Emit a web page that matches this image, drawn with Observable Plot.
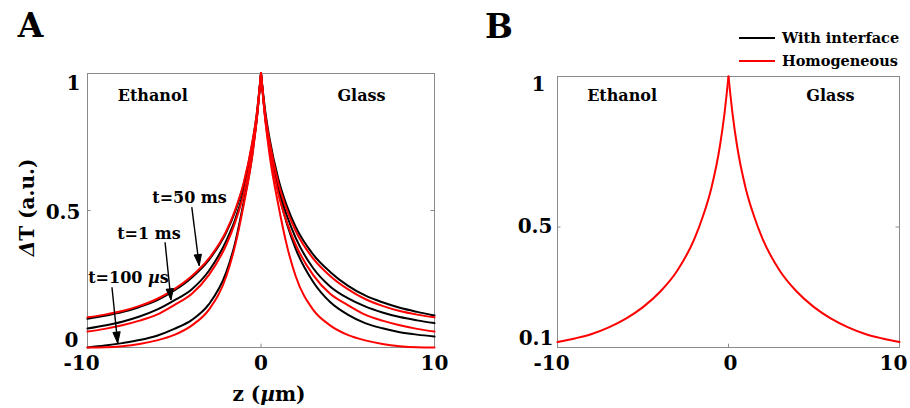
<!DOCTYPE html>
<html><head><meta charset="utf-8">
<script src="https://cdn.jsdelivr.net/npm/d3@7"></script>
<script src="https://cdn.jsdelivr.net/npm/@observablehq/plot@0.6"></script>
<style>
body{margin:0;background:#fff;}
#wrap{position:relative;width:910px;height:408px;display:flex;font-family:"DejaVu Serif",serif;}
#wrap svg{display:block;}
.lg{position:absolute;font-weight:bold;color:#000;white-space:nowrap;font-size:14.5px;line-height:16px;}
.ln{position:absolute;width:36px;height:0;border-top:2px solid;}
</style></head><body><div id="wrap"></div>
<script>
// ---------- data ----------
const zHalf = [0, 0.25, 0.5, 1, 1.5, 2, 3, 4, 5, 6, 7, 8, 9, 10];           // |z| in µm
// homogeneous (symmetric)
const red50  = [1, 0.85, 0.75, 0.6, 0.5, 0.425, 0.325, 0.26, 0.213, 0.177, 0.152, 0.133, 0.12, 0.11];
const red1   = [1, 0.83, 0.72, 0.56, 0.455, 0.375, 0.265, 0.195, 0.155, 0.12, 0.098, 0.081, 0.068, 0.058];
const red100 = [1, 0.83, 0.70, 0.52, 0.37, 0.26, 0.138, 0.08, 0.046, 0.026, 0.013, 0.005, 0.001, 0.0];
// with interface: ethanol side (z<0) and glass side (z>0)
const black50L  = [1, 0.85, 0.745, 0.595, 0.495, 0.42, 0.32, 0.255, 0.208, 0.172, 0.148, 0.129, 0.116, 0.105];
const black50R  = [1, 0.86, 0.76, 0.615, 0.515, 0.44, 0.34, 0.275, 0.226, 0.19, 0.165, 0.145, 0.13, 0.117];
const black1L   = [1, 0.83, 0.725, 0.57, 0.465, 0.39, 0.28, 0.212, 0.172, 0.138, 0.113, 0.094, 0.08, 0.069];
const black1R   = [1, 0.84, 0.735, 0.585, 0.48, 0.4, 0.29, 0.222, 0.18, 0.15, 0.128, 0.111, 0.099, 0.089];
const black100L = [1, 0.835, 0.705, 0.53, 0.38, 0.275, 0.158, 0.1, 0.068, 0.043, 0.027, 0.016, 0.007, 0.0];
const black100R = [1, 0.84, 0.735, 0.57, 0.45, 0.36, 0.24, 0.165, 0.12, 0.089, 0.07, 0.056, 0.047, 0.04];
// panel B (homogeneous)
const homB = [1, 0.87, 0.77, 0.63, 0.535, 0.46, 0.355, 0.285, 0.234, 0.196, 0.167, 0.145, 0.13, 0.118];

const regionNames = ["Ethanol", "Glass"];
const xTicks = [-10, 0, 10];
const yTicksA = [0, 0.5, 1];
const yTicksB = [0.1, 0.5, 1];

const annLabels = ["t=50 ms", "t=1 ms", "t=100 µs"];
const annTextZ = [-4.12, -6.46, -7.64];
const annTextV = [0.546, 0.414, 0.254];
const annTailZ = [-3.99, -5.53, -8.59];
const annTailV = [0.512, 0.384, 0.22];
const annTipZ  = [-3.56, -5.19, -8.26];
const annTipV  = [0.299, 0.174, 0.016];

const legendNames = ["With interface", "Homogeneous"];
const colBlack = "#000", colRed = "#f00";

// ---------- build tables ----------
function curve(id, left, right) {
  const rows = [];
  for (let i = zHalf.length - 1; i >= 0; i--) rows.push({id: id + "L", z: -zHalf[i], v: left[i]});
  for (let i = 0; i < zHalf.length; i++) rows.push({id: id + "R", z: zHalf[i], v: right[i]});
  return rows;
}
const blackRows = [...curve("b100", black100L, black100R), ...curve("b1", black1L, black1R), ...curve("b50", black50L, black50R)];
const redRows = [...curve("r100", red100, red100), ...curve("r1", red1, red1), ...curve("r50", red50, red50)];
const bRows = curve("h", homB, homB);

const W = 455, H = 408;
const FONT = {fontFamily: "DejaVu Serif", fontSize: "20px", fontWeight: "bold", color: "#000", background: "#fff", overflow: "visible"};
const mA = {l: 87, r: 21, t: 73, b: 61};
const mB = {l: 102, r: 11, t: 76, b: 61};
const pxZ = (W - mA.l - mA.r) / 20, pxV = (H - mA.t - mA.b) / 1;

const ann = annLabels.map((s, i) => {
  const dx = (annTipZ[i] - annTailZ[i]) * pxZ, dy = -(annTipV[i] - annTailV[i]) * pxV;
  return {s, tz: annTextZ[i], tv: annTextV[i], z1: annTailZ[i], v1: annTailV[i], z2: annTipZ[i], v2: annTipV[i],
          ang: Math.atan2(dx, -dy) * 180 / Math.PI};
});
const tri = {draw(ctx, l, r) { ctx.moveTo(0, -l); ctx.lineTo(-r, 0); ctx.lineTo(r, 0); ctx.closePath(); }};

const fmt = d => String(d);
const gray = "#8a8a8a";

function commonTicks(yLo, yHi, dzx, dvy) {
  return [
    Plot.ruleY([0.5], {x1: -10, x2: -10 + dzx, stroke: gray}),
    Plot.ruleY([0.5], {x1: 10 - dzx, x2: 10, stroke: gray}),
    Plot.ruleX([0], {y1: yLo, y2: yLo + dvy, stroke: gray}),
    Plot.ruleX([0], {y1: yHi - dvy, y2: yHi, stroke: gray})
  ];
}
const ax = {tickSize: 0, tickFormat: fmt, label: null};

const plotA = Plot.plot({
  width: W, height: H, marginLeft: mA.l, marginRight: mA.r, marginTop: mA.t, marginBottom: mA.b,
  style: FONT,
  x: {domain: [-10, 10], label: null},
  y: {domain: [0, 1], label: null},
  marks: [
    Plot.frame({stroke: gray}),
    ...commonTicks(0, 1, 0.2, 0.012),
    Plot.axisX([xTicks[0]], {...ax, tickPadding: 8, dx: -6}),
    Plot.axisX(xTicks.slice(1), {...ax, tickPadding: 8}),
    Plot.axisY([yTicksA[2]], {...ax, tickPadding: 7, dy: 10}),
    Plot.axisY([yTicksA[1]], {...ax, tickPadding: 7, dy: 2}),
    Plot.axisY([yTicksA[0]], {...ax, tickPadding: 9, dy: -7}),
    Plot.line(blackRows, {x: "z", y: "v", z: "id", stroke: colBlack, strokeWidth: 2, curve: "monotone-x"}),
    Plot.line(redRows, {x: "z", y: "v", z: "id", stroke: colRed, strokeWidth: 2, curve: "monotone-x"}),
    Plot.text([regionNames[0]], {x: -6.24, y: 0.92, fontSize: 16, fontWeight: "bold"}),
    Plot.text([regionNames[1]], {x: 5.79, y: 0.92, fontSize: 16, fontWeight: "bold"}),
    Plot.text(ann, {x: "tz", y: "tv", text: "s", fontSize: 16, fontWeight: "bold"}),
    Plot.link(ann, {x1: "z1", y1: "v1", x2: "z2", y2: "v2", stroke: "#000", strokeWidth: 1.4}),
    Plot.vector(ann, {x: "z2", y: "v2", rotate: "ang", length: 11, r: 3.6, anchor: "end", shape: tri, fill: "#000", stroke: "#000", strokeWidth: 1}),
    Plot.text(["ΔT (a.u.)"], {frameAnchor: "left", rotate: -90, dx: -60, dy: -3, fontSize: 20, fontWeight: "bold", textAnchor: "middle", lineAnchor: "middle"}),
    Plot.text(["z (µm)"], {frameAnchor: "bottom", dx: 8, dy: 47, fontSize: 20, fontWeight: "bold", textAnchor: "middle", lineAnchor: "middle"}),
    Plot.text(["A"], {frameAnchor: "top-left", dx: -57, dy: -47, fontSize: 33, fontWeight: "bold", textAnchor: "middle", lineAnchor: "middle"})
  ]
});

const plotB = Plot.plot({
  width: W, height: H, marginLeft: mB.l, marginRight: mB.r, marginTop: mB.t, marginBottom: mB.b,
  style: FONT,
  x: {domain: [-10, 10], label: null},
  y: {domain: [0.1, 1], label: null},
  marks: [
    Plot.frame({stroke: gray}),
    ...commonTicks(0.1, 1, 0.2, 0.011),
    Plot.axisX([xTicks[0]], {...ax, tickPadding: 8, dx: -6}),
    Plot.axisX([xTicks[1]], {...ax, tickPadding: 8, dx: 2}),
    Plot.axisX([xTicks[2]], {...ax, tickPadding: 8, dx: -6}),
    Plot.axisY([yTicksB[2]], {...ax, tickPadding: 12, dy: 8}),
    Plot.axisY([yTicksB[1]], {...ax, tickPadding: 5}),
    Plot.axisY([yTicksB[0]], {...ax, tickPadding: 4, dy: -9}),
    Plot.line(bRows, {x: "z", y: "v", z: "id", stroke: colRed, strokeWidth: 2, curve: "monotone-x"}),
    Plot.text([regionNames[0]], {x: -6.22, y: 0.935, fontSize: 16, fontWeight: "bold"}),
    Plot.text([regionNames[1]], {x: 5.96, y: 0.935, fontSize: 16, fontWeight: "bold"}),
    Plot.text(["B"], {frameAnchor: "top-left", dx: -58.5, dy: -49.5, fontSize: 33, fontWeight: "bold", textAnchor: "middle", lineAnchor: "middle"})
  ]
});

function italicize(svg) {
  d3.select(svg).selectAll("text").each(function () {
    const el = this;
    if (el.childNodes.length !== 1 || el.firstChild.nodeType !== 3) return;
    const t = el.textContent;
    if (!/[Δµ]/.test(t)) return;
    el.textContent = "";
    t.split(/([Δµ])/).forEach(p => {
      if (!p) return;
      const ts = d3.select(el).append("tspan").text(p);
      if (p === "Δ" || p === "µ") ts.attr("font-style", "italic");
    });
  });
}
italicize(plotA); italicize(plotB);

const wrap = document.getElementById("wrap");
wrap.appendChild(plotA);
wrap.appendChild(plotB);

// legend (HTML, above panel B)
const cols = [colBlack, colRed];
const ys = [38, 61];
legendNames.forEach((name, i) => {
  const ln = document.createElement("div");
  ln.className = "ln"; ln.style.left = "739px"; ln.style.top = (ys[i] - 1) + "px"; ln.style.borderColor = cols[i];
  wrap.appendChild(ln);
  const tx = document.createElement("div");
  tx.className = "lg"; tx.style.left = "782px"; tx.style.top = (ys[i] - 8) + "px"; tx.textContent = name;
  wrap.appendChild(tx);
});
</script></body></html>
